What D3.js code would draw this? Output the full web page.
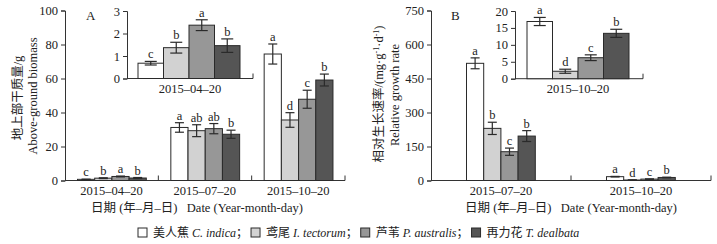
<!DOCTYPE html>
<html lang="en">
  <head>
    <meta charset="utf-8">
    <title>Biomass and growth rate</title>
  </head>
  <style type="text/css">
    body { margin: 0; background: white; }
    text {
      font-family: "Liberation Serif", "Noto Sans CJK SC", serif;
      font-size: 12.5px;
      fill: #222;
    }
    .domain, .tick line { stroke: #333; }
  </style>
  <body>
    <div id="svg-area"></div>

    <script type="text/javascript" src="https://cdn.jsdelivr.net/npm/d3@7/dist/d3.min.js"></script>
    <script>
      const svg_width = 717;
      const svg_height = 244;

      // species (legend order)
      const species_cn = ['美人蕉', '鸢尾', '芦苇', '再力花'];
      const species_latin = ['C. indica', 'I. tectorum', 'P. australis', 'T. dealbata'];
      const colors = ['#ffffff', '#d2d2d2', '#979797', '#555555'];

      // panel A: above-ground biomass (g)
      const dates_a = ['2015-04-20', '2015-07-20', '2015-10-20'];
      const biomass = [
        [0.68, 1.37, 2.37, 1.46],
        [31.2, 29.3, 30.5, 27.2],
        [74.4, 35.6, 47.8, 59.1]
      ];
      const biomass_err = [
        [0.08, 0.24, 0.24, 0.3],
        [2.8, 3.5, 3.0, 2.4],
        [5.9, 4.3, 5.3, 3.5]
      ];
      const biomass_sig = [
        ['c', 'b', 'a', 'b'],
        ['a', 'ab', 'ab', 'b'],
        ['a', 'd', 'c', 'b']
      ];
      const ticks_a = [0, 20, 40, 60, 80, 100];
      const ticks_a_inset = [0, 1, 2, 3];

      // panel B: relative growth rate (mg g-1 d-1)
      const dates_b = ['2015-07-20', '2015-10-20'];
      const rgr = [
        [517, 230, 127, 196],
        [16.9, 2.2, 6.2, 13.4]
      ];
      const rgr_err = [
        [24, 27, 16, 24],
        [1.2, 0.6, 0.85, 1.2]
      ];
      const rgr_sig = [
        ['a', 'b', 'c', 'b'],
        ['a', 'd', 'c', 'b']
      ];
      const ticks_b = [0, 150, 300, 450, 600, 750];
      const ticks_b_inset = [0, 5, 10, 15, 20];

      const svg = d3.select('#svg-area')
        .append('svg')
        .attr('width', svg_width)
        .attr('height', svg_height);

      const dash = s => s.replace(/-/g, '\u2013');

      //draws one bar chart (main panel or inset)
      function drawBars(opt) {
        const g = svg.append('g');
        const x = d3.scaleBand().domain(opt.cats).range([opt.x0, opt.x1]);
        const y = d3.scaleLinear().domain([0, opt.ymax]).range([opt.y0, opt.ytop]);
        const inner = d3.scaleBand().domain(d3.range(4))
          .range([opt.pad, opt.pad + 4 * opt.barW]);

        //y axis
        g.append('g')
          .attr('transform', `translate(${opt.x0},0)`)
          .call(d3.axisLeft(y).tickValues(opt.ticks).tickFormat(d3.format('d'))
            .tickSizeOuter(0).tickSize(4).tickPadding(3))
          .call(a => a.selectAll('text').style('font-size', '12.5px'));

        //x axis line with upward ticks on group boundaries
        g.append('line')
          .attr('x1', opt.x0).attr('x2', opt.x1)
          .attr('y1', opt.y0).attr('y2', opt.y0)
          .attr('stroke', '#333');
        opt.cats.forEach(c => {
          const bx = x(c) + x.bandwidth();
          g.append('line')
            .attr('x1', bx).attr('x2', bx)
            .attr('y1', opt.y0).attr('y2', opt.y0 - 5)
            .attr('stroke', '#333');
        });

        opt.cats.forEach((c, ci) => {
          const grp = g.append('g').attr('transform', `translate(${x(c)},0)`);
          const rows = opt.values[ci].map((v, i) => ({v: v, e: opt.errs[ci][i], s: opt.sig[ci][i], i: i}));

          grp.selectAll('rect')
            .data(rows)
            .enter()
            .append('rect')
            .attr('x', d => inner(d.i))
            .attr('width', inner.bandwidth())
            .attr('y', d => y(d.v))
            .attr('height', d => y(0) - y(d.v))
            .attr('fill', d => colors[d.i])
            .attr('stroke', '#2a2a2a')
            .attr('stroke-width', 1);

          const cw = opt.cap;
          const eb = grp.selectAll('g.err')
            .data(rows)
            .enter()
            .append('g')
            .attr('class', 'err')
            .attr('transform', d => `translate(${inner(d.i) + inner.bandwidth() / 2},0)`)
            .attr('stroke', '#2a2a2a')
            .attr('stroke-width', 1.2);
          eb.append('line').attr('y1', d => y(d.v + d.e)).attr('y2', d => y(d.v - d.e));
          eb.append('line').attr('x1', -cw / 2).attr('x2', cw / 2)
            .attr('y1', d => y(d.v + d.e)).attr('y2', d => y(d.v + d.e));
          eb.append('line').attr('x1', -cw / 2).attr('x2', cw / 2)
            .attr('y1', d => y(d.v - d.e)).attr('y2', d => y(d.v - d.e));

          grp.selectAll('text.sig')
            .data(rows)
            .enter()
            .append('text')
            .attr('class', 'sig')
            .attr('x', d => inner(d.i) + inner.bandwidth() / 2)
            .attr('y', d => y(d.v + d.e) - 3)
            .attr('text-anchor', 'middle')
            .text(d => d.s);

          g.append('text')
            .attr('x', x(c) + opt.labelDx)
            .attr('y', opt.y0 + 14)
            .attr('text-anchor', 'middle')
            .text(dash(c));
        });
      }

      //panel A
      drawBars({cats: dates_a, values: biomass, errs: biomass_err, sig: biomass_sig,
        x0: 65, x1: 345, y0: 180.5, ytop: 10.5, ymax: 100, ticks: ticks_a,
        pad: 12.5, barW: 17.2, cap: 9, labelDx: 46.5});
      drawBars({cats: [dates_a[0]], values: [biomass[0]], errs: [biomass_err[0]], sig: [biomass_sig[0]],
        x0: 127, x1: 253, y0: 78.5, ytop: 11, ymax: 3, ticks: ticks_a_inset,
        pad: 11, barW: 25.5, cap: 12, labelDx: 63});

      //panel B
      drawBars({cats: dates_b, values: rgr, errs: rgr_err, sig: rgr_sig,
        x0: 431, x1: 711, y0: 180.5, ytop: 10.5, ymax: 750, ticks: ticks_b,
        pad: 35.5, barW: 17.2, cap: 9, labelDx: 70});
      drawBars({cats: [dates_b[1]], values: [rgr[1]], errs: [rgr_err[1]], sig: [rgr_sig[1]],
        x0: 515, x1: 643, y0: 78.7, ytop: 11, ymax: 20, ticks: ticks_b_inset,
        pad: 12, barW: 25.5, cap: 12, labelDx: 63});

      //panel letters
      svg.append('text').attr('x', 86).attr('y', 20).style('font-size', '13px').text('A');
      svg.append('text').attr('x', 451).attr('y', 20).style('font-size', '13px').text('B');

      //y titles
      const ytitle = (x, y, txt) => svg.append('text')
        .attr('transform', `translate(${x},${y}) rotate(-90)`)
        .attr('text-anchor', 'middle')
        .style('font-size', '12.5px')
        .text(txt);
      ytitle(22, 98, '地上部干质量/g');
      ytitle(37, 96, 'Above-ground biomass');
      const yb = svg.append('text')
        .attr('transform', 'translate(383,94) rotate(-90)')
        .attr('text-anchor', 'middle')
        .style('font-size', '12.5px');
      yb.append('tspan').text('相对生长速率/(mg·g');
      yb.append('tspan').attr('dy', -4).style('font-size', '8px').text('-1');
      yb.append('tspan').attr('dy', 4).text('·d');
      yb.append('tspan').attr('dy', -4).style('font-size', '8px').text('-1');
      yb.append('tspan').attr('dy', 4).text(')');
      ytitle(399, 95, 'Relative growth rate');

      //x titles
      const xtitle = cx => svg.append('text')
        .attr('x', cx).attr('y', 212)
        .attr('text-anchor', 'middle')
        .attr('xml:space', 'preserve')
        .text('日期 (年\u2013月\u2013日)   Date (Year-month-day)');
      xtitle(197);
      xtitle(571);

      //legend
      let lx = 138;
      const ly = 237;
      species_cn.forEach((cn, i) => {
        svg.append('rect')
          .attr('x', lx).attr('y', ly - 9)
          .attr('width', 9).attr('height', 9)
          .attr('fill', colors[i]).attr('stroke', '#2a2a2a');
        const t = svg.append('text').attr('x', lx + 15).attr('y', ly).style('font-size', '12px');
        t.append('tspan').text(cn + ' ');
        t.append('tspan').style('font-style', 'italic').text(species_latin[i]);
        if (i < species_cn.length - 1) t.append('tspan').text('；');
        lx += 15 + t.node().getComputedTextLength() + 3;
      });
    </script>
  </body>
</html>
